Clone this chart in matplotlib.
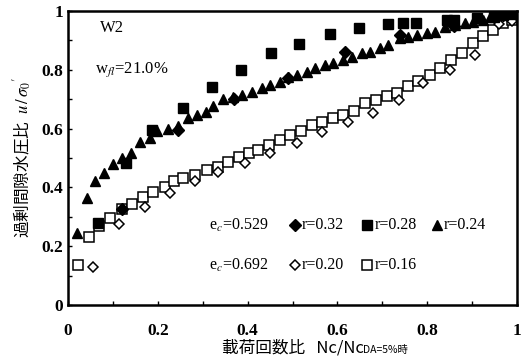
import matplotlib
matplotlib.use("Agg")
import matplotlib.pyplot as plt
from matplotlib.ticker import MultipleLocator

plt.rcParams['font.family'] = ['Liberation Serif', 'Noto Sans CJK JP']
plt.rcParams['mathtext.fontset'] = 'stix'

# r=0.32 (黒菱形)
r032_x = [0.121, 0.245, 0.37, 0.49, 0.617, 0.74, 0.86, 0.97]
r032_y = [0.325, 0.595, 0.70, 0.77, 0.861, 0.918, 0.95, 0.985]
# r=0.28 (黒四角)
r028_x = [0.067, 0.129, 0.188, 0.257, 0.321, 0.386, 0.452, 0.514, 0.583, 0.648,
          0.712, 0.747, 0.776, 0.844, 0.86, 0.91, 0.95, 0.97, 0.99]
r028_y = [0.28, 0.483, 0.595, 0.67, 0.74, 0.80, 0.857, 0.887, 0.92, 0.94,
          0.955, 0.96, 0.96, 0.97, 0.97, 0.975, 0.98, 0.985, 0.99]
# r=0.24 (黒三角)
r024_x = [0.02, 0.042, 0.06, 0.08, 0.099, 0.119, 0.14, 0.16, 0.183, 0.198,
          0.222, 0.245, 0.267, 0.287, 0.307, 0.323, 0.346, 0.368, 0.388, 0.41,
          0.432, 0.45, 0.472, 0.49, 0.51, 0.532, 0.55, 0.573, 0.59, 0.613,
          0.633, 0.655, 0.673, 0.695, 0.712, 0.74, 0.758, 0.777, 0.80, 0.817,
          0.84, 0.862, 0.884, 0.902, 0.925, 0.94, 0.957, 0.97, 0.99]
r024_y = [0.245, 0.364, 0.42, 0.448, 0.48, 0.50, 0.517, 0.555, 0.567, 0.59,
          0.60, 0.61, 0.635, 0.646, 0.657, 0.675, 0.70, 0.707, 0.714, 0.725,
          0.737, 0.748, 0.759, 0.776, 0.782, 0.793, 0.806, 0.816, 0.823, 0.833,
          0.844, 0.857, 0.861, 0.874, 0.884, 0.908, 0.912, 0.918, 0.925, 0.929,
          0.946, 0.952, 0.959, 0.963, 0.97, 0.98, 0.985, 0.99, 0.995]
# r=0.20 (白菱形)
r020_x = [0.056, 0.114, 0.171, 0.227, 0.283, 0.335, 0.395, 0.45, 0.509, 0.565,
          0.624, 0.68, 0.737, 0.791, 0.85, 0.907, 0.96, 0.99]
r020_y = [0.128, 0.275, 0.334, 0.38, 0.42, 0.453, 0.482, 0.516, 0.55, 0.589,
          0.623, 0.652, 0.697, 0.754, 0.80, 0.85, 0.955, 0.965]
# r=0.16 (白四角)
r016_x = [0.023, 0.046, 0.069, 0.094, 0.121, 0.142, 0.167, 0.19, 0.216, 0.236,
          0.257, 0.283, 0.309, 0.335, 0.357, 0.38, 0.402, 0.424, 0.448, 0.472,
          0.495, 0.52, 0.543, 0.565, 0.591, 0.613, 0.638, 0.662, 0.687, 0.71,
          0.732, 0.758, 0.78, 0.806, 0.829, 0.854, 0.877, 0.903, 0.925, 0.947,
          0.969, 0.99]
r016_y = [0.136, 0.23, 0.27, 0.295, 0.326, 0.343, 0.367, 0.385, 0.40, 0.42,
          0.431, 0.442, 0.459, 0.47, 0.487, 0.504, 0.516, 0.527, 0.544, 0.561,
          0.578, 0.592, 0.612, 0.623, 0.635, 0.646, 0.66, 0.686, 0.697, 0.709,
          0.72, 0.743, 0.76, 0.782, 0.805, 0.833, 0.856, 0.89, 0.913, 0.935,
          0.958, 0.97]

tick_vals = [0, 0.2, 0.4, 0.6, 0.8, 1]
tick_labels = ['0', '0.2', '0.4', '0.6', '0.8', '1']

fig = plt.figure(figsize=(5.28, 3.61), dpi=100)
ax = fig.add_axes([0.129, 0.155, 0.850, 0.815])

ax.plot(r016_x, r016_y, 's', ms=7.5, mfc='white', mec='black', mew=1.1, ls='none')
ax.plot(r020_x, r020_y, 'D', ms=5.5, mfc='white', mec='black', mew=1.1, ls='none')
ax.plot(r032_x, r032_y, 'D', ms=6, color='black', ls='none')
ax.plot(r028_x, r028_y, 's', ms=7, color='black', ls='none')
ax.plot(r024_x, r024_y, '^', ms=7, color='black', ls='none')

ax.set_xlim(0, 1)
ax.set_ylim(0, 1)
ax.set_xticks(tick_vals)
ax.set_yticks(tick_vals)
ax.set_xticklabels(tick_labels, fontsize=12.5, fontweight='bold')
ax.set_yticklabels(tick_labels, fontsize=12.5, fontweight='bold')
ax.xaxis.set_minor_locator(MultipleLocator(0.1))
ax.yaxis.set_minor_locator(MultipleLocator(0.1))
ax.tick_params(which='both', direction='in', length=3, width=1)
ax.tick_params(axis='x', pad=13)
for s in ax.spines.values():
    s.set_linewidth(1.8)

cjk = ['Noto Sans CJK JP']
ax.set_ylabel("過剰間隙水圧比  $u\\,/\\,\\sigma_0{}'$", fontsize=12, family=cjk, labelpad=5)
ax.set_xlabel("載荷回数比   Nc/Nc", fontsize=12, family=cjk, labelpad=0)

# 下付き
fig.canvas.draw()
bb = ax.xaxis.label.get_window_extent()
x0, y0 = fig.transFigure.inverted().transform((bb.x1, bb.y0))
fig.text(x0, y0 + 0.002, "DA=5%時", fontsize=7.5, family=cjk, ha='left', va='bottom')

ax.text(0.072, 0.94, "W2", transform=ax.transAxes, fontsize=12, va='center')
ax.text(0.061, 0.80, "w$_{fl}$=21.0%", transform=ax.transAxes, fontsize=12, va='center')

# 凡例
ax.text(0.315, 0.272, "e$_c$=0.529", transform=ax.transAxes, fontsize=11.5, va='center')
ax.text(0.315, 0.136, "e$_c$=0.692", transform=ax.transAxes, fontsize=11.5, va='center')
ax.plot([0.505], [0.272], 'D', ms=6, color='black', transform=ax.transAxes)
ax.text(0.52, 0.272, "r=0.32", transform=ax.transAxes, fontsize=11.5, va='center')
ax.plot([0.667], [0.272], 's', ms=7, color='black', transform=ax.transAxes)
ax.text(0.682, 0.272, "r=0.28", transform=ax.transAxes, fontsize=11.5, va='center')
ax.plot([0.822], [0.272], '^', ms=7, color='black', transform=ax.transAxes)
ax.text(0.837, 0.272, "r=0.24", transform=ax.transAxes, fontsize=11.5, va='center')
ax.plot([0.505], [0.136], 'D', ms=5.5, mfc='white', mec='black', mew=1.1, transform=ax.transAxes)
ax.text(0.52, 0.136, "r=0.20", transform=ax.transAxes, fontsize=11.5, va='center')
ax.plot([0.667], [0.136], 's', ms=7.5, mfc='white', mec='black', mew=1.1, transform=ax.transAxes)
ax.text(0.682, 0.136, "r=0.16", transform=ax.transAxes, fontsize=11.5, va='center')

fig.savefig("out.png", dpi=100)
